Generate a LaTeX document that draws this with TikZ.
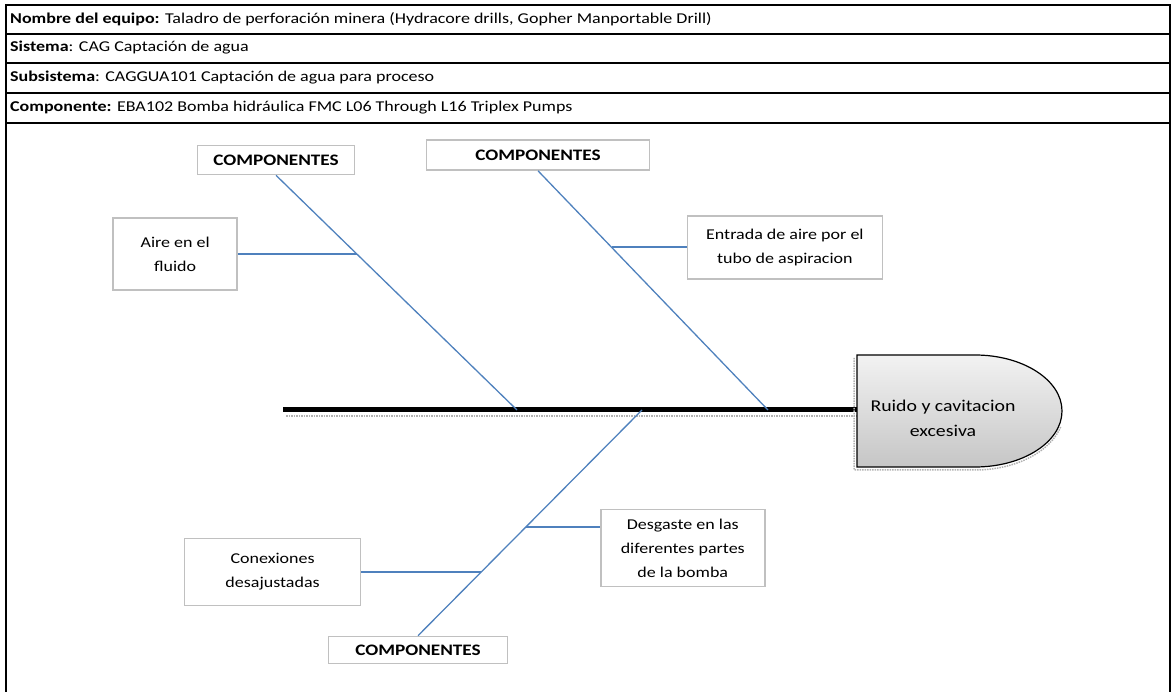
\documentclass[tikz,border=0pt]{standalone}
\usepackage{fontspec}
\setmainfont[FakeStretch=1.2]{Carlito}
\usetikzlibrary{positioning,calc}
\definecolor{bone}{RGB}{79,129,189}
\definecolor{boxgray}{RGB}{192,192,192}
\newcommand{\rowlabel}[2]{\textbf{#1}#2}

\begin{document}
\begin{tikzpicture}[x=1pt,y=-1pt,
  causebox/.style={draw=boxgray,line width=1.6pt,fill=white,align=center,inner sep=0pt,font=\fontsize{15}{24}\selectfont},
  catbox/.style={causebox,font=\fontsize{16}{18}\selectfont\bfseries},
  bonel/.style={bone,line width=1.3pt},
  twig/.style={bone,line width=1.8pt},
  rowtxt/.style={anchor=west,inner sep=0pt,font=\fontsize{15}{16}\selectfont}]
\useasboundingbox (0,0) rectangle (1171,692);
% header table
\draw[line width=1.3pt] (6,692) -- (6,5) -- (1170,5) -- (1170,692);
\foreach \yy in {34,63,93} \draw[line width=1.3pt] (6,\yy) -- (1170,\yy);
\draw[line width=2.2pt] (6,123) -- (1170,123);
\node[rowtxt] (equipo) at (10,19) {\rowlabel{Nombre del equipo:}{ Taladro de perforación minera (Hydracore drills, Gopher Manportable Drill)}};
\node[rowtxt] (sistema) at (10,48) {\rowlabel{Sistema}{: CAG Captación de agua}};
\node[rowtxt] (subsis) at (10,78) {\rowlabel{Subsistema}{: CAGGUA101 Captación de agua para proceso}};
\node[rowtxt] (compo) at (10,108) {\rowlabel{Componente:}{ EBA102 Bomba hidráulica FMC L06 Through L16 Triplex Pumps}};
% spine and head
\coordinate (spineL) at (283,410);
\coordinate (spineR) at (857,410);
\draw[gray!60,densely dotted,line width=1.5pt] ($(spineL)+(3,6)$) -- ($(spineR)+(0,6)$);
\draw[line width=5pt] (spineL) -- (spineR);
\draw[gray!60,densely dotted,line width=1.5pt] (854,358) -- (854,470) -- (975,470) arc[start angle=90,end angle=15,x radius=89,y radius=59];
\path[draw=black,line width=1.2pt,top color=gray!10,bottom color=gray!45]
  (857,355) -- (975,355) arc[start angle=-90,end angle=90,x radius=87,y radius=56] -- (857,467) -- cycle;
\node[align=center,font=\fontsize{16.5}{25}\selectfont] (efecto) at (943,418) {Ruido y cavitacion\\excesiva};
% joints on spine
\coordinate (j1) at (517,410);
\coordinate (j2) at (768,410);
\coordinate (j3) at (642,410);
% categories
\node[catbox,minimum width=157,minimum height=29] (cat1) at (276,160) {COMPONENTES};
\node[catbox,minimum width=223,minimum height=30] (cat2) at (538,155) {COMPONENTES};
\node[catbox,minimum width=179,minimum height=27] (cat3) at (418,650) {COMPONENTES};
\draw[bonel] (cat1.south) -- (j1) coordinate[pos=0.336] (k1);
\draw[bonel] (cat2.south) -- (j2) coordinate[pos=0.32] (k2);
\draw[bonel] (j3) -- (cat3.north) coordinate[pos=0.518] (k3) coordinate[pos=0.717] (k4);
% causes
\node[causebox,anchor=east,minimum width=124,minimum height=72] (aire) at ($(k1)+(-119,0)$) {Aire en el\\fluido};
\node[causebox,anchor=west,minimum width=195,minimum height=63] (entrada) at ($(k2)+(75,0)$) {Entrada de aire por el\\tubo de aspiracion};
\node[causebox,anchor=west,minimum width=164,minimum height=77] (desgaste) at ($(k3)+(74,21)$) {Desgaste en las\\diferentes partes\\de la bomba};
\node[causebox,anchor=east,minimum width=176,minimum height=67] (conex) at ($(k4)+(-120,0)$) {Conexiones\\desajustadas};
\draw[twig] (aire.east) -- (k1);
\draw[twig] (entrada.west) -- (k2);
\draw[twig] (k3 -| desgaste.west) -- (k3);
\draw[twig] (conex.east) -- (k4);
\end{tikzpicture}
\end{document}
